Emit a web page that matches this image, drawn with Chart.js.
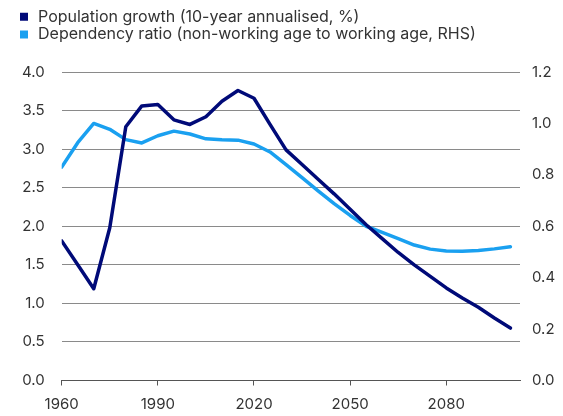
<!DOCTYPE html>
<html>
<head>
<meta charset="utf-8">
<script src="https://cdn.jsdelivr.net/npm/chart.js@4.4.1/dist/chart.umd.min.js"></script>
<style>
    html, body { margin: 0; padding: 0; background: #fff; }
    #wrap { width: 563px; height: 416px; }
</style>
</head>
<body>
<div id="wrap"><canvas id="chart" width="563" height="416"></canvas></div>
<script>
const years = [1960, 1965, 1970, 1975, 1980, 1985, 1990, 1995, 2000, 2005,
    2010, 2015, 2020, 2025, 2030, 2035, 2040, 2045, 2050, 2055,
    2060, 2065, 2070, 2075, 2080, 2085, 2090, 2095, 2100];

// 10-year annualised population growth, %
const popGrowth = [1.81, 1.50, 1.19, 1.98, 3.29, 3.56, 3.58, 3.38, 3.32, 3.42,
    3.62, 3.76, 3.66, 3.32, 2.99, 2.80, 2.61, 2.42, 2.22, 2.02,
    1.84, 1.66, 1.50, 1.35, 1.20, 1.07, 0.95, 0.81, 0.68];

// non-working age to working age (RHS)
const depRatio = [0.830, 0.925, 1.000, 0.977, 0.937, 0.924, 0.952, 0.970, 0.959, 0.940,
    0.936, 0.935, 0.920, 0.889, 0.840, 0.789, 0.738, 0.688, 0.642, 0.600,
    0.576, 0.552, 0.527, 0.511, 0.504, 0.503, 0.506, 0.512, 0.520];

const xTicks = [1960, 1990, 2020, 2050, 2080];

const labels = [
    'Population growth (10-year annualised, %)',
    'Dependency ratio (non-working age to working age, RHS)'
];

const navy = '#000a78';
const sky = '#1aa0f0';

Chart.defaults.font.family = 'Inter';
Chart.defaults.font.size = 15;
Chart.defaults.color = '#333';

// push the plot down below the legend
const legendGap = {
    id: 'legendGap',
    beforeInit(chart) {
        const fit = chart.legend.fit;
        chart.legend.fit = function () {
            fit.bind(this)();
            this.height += 19.5;
        };
    }
};

new Chart(document.getElementById('chart').getContext('2d'), {
    type: 'line',
    data: {
        datasets: [
            {
                label: labels[0],
                data: years.map((y, i) => ({ x: y, y: popGrowth[i] })),
                borderColor: navy,
                backgroundColor: navy,
                borderWidth: 3.5,
                pointRadius: 0,
                tension: 0,
                borderJoinStyle: 'round',
                borderCapStyle: 'round',
                yAxisID: 'y'
            },
            {
                label: labels[1],
                data: years.map((y, i) => ({ x: y, y: depRatio[i] })),
                borderColor: sky,
                backgroundColor: sky,
                borderWidth: 3.5,
                pointRadius: 0,
                tension: 0,
                borderJoinStyle: 'round',
                borderCapStyle: 'round',
                yAxisID: 'y1'
            }
        ]
    },
    options: {
        responsive: false,
        animation: false,
        layout: { padding: { left: 16.2, right: 0, top: 6.9, bottom: 3.5 } },
        scales: {
            x: {
                type: 'linear',
                min: 1960,
                max: 2103,
                afterBuildTicks: (s) => { s.ticks = xTicks.map(v => ({ value: v })); },
                afterFit: (s) => { s.height = 32; },
                ticks: {
                    padding: 10,
                    maxRotation: 0,
                    callback: (v) => String(v)
                },
                grid: {
                    drawOnChartArea: false,
                    drawTicks: true,
                    tickLength: 5,
                    color: '#555'
                },
                border: { display: true, color: '#555' }
            },
            y: {
                position: 'left',
                min: 0,
                max: 4,
                afterFit: (s) => { s.width = 45.5; },
                ticks: {
                    stepSize: 0.5,
                    padding: 17,
                    callback: (v) => v.toFixed(1)
                },
                grid: {
                    drawTicks: false,
                    color: (c) => c.tick && c.tick.value === 0 ? '#555' : '#8a8a8a'
                },
                border: { display: false }
            },
            y1: {
                position: 'right',
                min: 0,
                max: 1.2,
                afterFit: (s) => { s.width = 43; },
                ticks: {
                    stepSize: 0.2,
                    padding: 12,
                    callback: (v) => v.toFixed(1)
                },
                grid: { display: false, drawTicks: false },
                border: { display: false }
            }
        },
        plugins: {
            legend: {
                display: true,
                position: 'top',
                align: 'start',
                labels: {
                    boxWidth: 12,
                    boxHeight: 12,
                    padding: 1.8,
                    font: { size: 16 },
                    // white outline trims the 12px box to an 8px square
                    generateLabels: (chart) => Chart.defaults.plugins.legend.labels.generateLabels(chart)
                        .map(l => ({ ...l, lineWidth: 4, strokeStyle: '#fff' }))
                }
            },
            tooltip: { enabled: false }
        }
    },
    plugins: [legendGap]
});
</script>
</body>
</html>
